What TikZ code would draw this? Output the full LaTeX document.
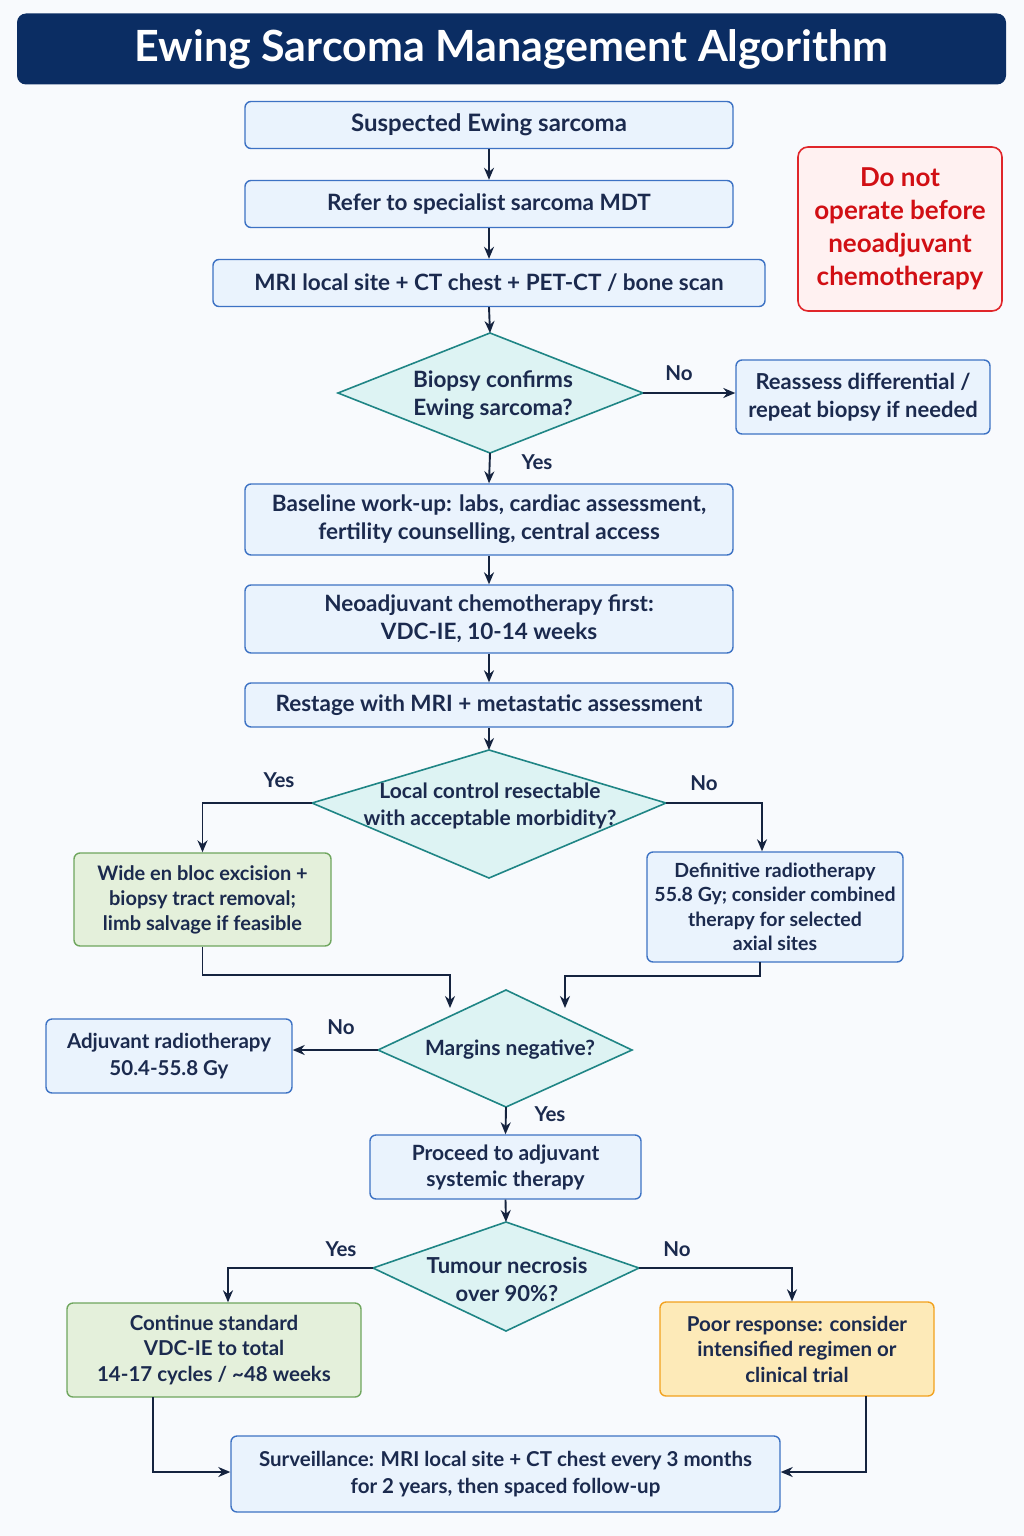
\documentclass[tikz,border=0pt]{standalone}
\usepackage{fontspec}
\setmainfont{Lato}
\usetikzlibrary{arrows.meta,calc}
\definecolor{bg}{HTML}{F8FAFD}
\definecolor{navy}{HTML}{0B2D63}
\definecolor{txt}{HTML}{1B2A4E}
\definecolor{bluefill}{HTML}{EAF3FD}
\definecolor{blueline}{HTML}{3D72C4}
\definecolor{greenfill}{HTML}{E4F0DB}
\definecolor{greenline}{HTML}{6FA65E}
\definecolor{orangefill}{HTML}{FDEAB8}
\definecolor{orangeline}{HTML}{F2A11E}
\definecolor{redfill}{HTML}{FFF1F1}
\definecolor{redline}{HTML}{E0262A}
\definecolor{redtxt}{HTML}{D10F14}
\definecolor{diafill}{HTML}{DDF3F3}
\definecolor{dialine}{HTML}{1F8585}
\definecolor{arrowc}{HTML}{15233F}
\begin{document}
\begin{tikzpicture}[x=1pt,y=-1pt,
  box/.style={draw=blueline,fill=bluefill,line width=1.4pt,rounded corners=6pt,text=txt,
    font=\fontsize{20.5}{27}\selectfont\bfseries,align=center,inner sep=0pt},
  bigtext/.style={font=\fontsize{22.5}{28}\selectfont\bfseries},
  greenbox/.style={box,draw=greenline,fill=greenfill},
  orangebox/.style={box,draw=orangeline,fill=orangefill},
  dia/.style={draw=dialine,fill=diafill,line width=1.6pt,line join=miter},
  dtext/.style={text=txt,font=\fontsize{21}{27}\selectfont\bfseries,align=center,inner sep=0pt},
  lbl/.style={text=txt,font=\fontsize{20.5}{24}\selectfont\bfseries,inner sep=0pt},
  arr/.style={draw=arrowc,line width=1.9pt,-{Stealth[length=12pt,width=10pt]}},
  ln/.style={draw=arrowc,line width=1.9pt}
]
\useasboundingbox (0,0) rectangle (1024,1536);
\fill[bg] (0,0) rectangle (1024,1536);

% title
\node[fill=navy,rounded corners=9pt,minimum width=989pt,minimum height=71pt,inner sep=0pt,
  text=white,font=\fontsize{43}{50}\selectfont\bfseries] (title) at (511.5,49) {Ewing Sarcoma Management Algorithm};

% top column
\node[box,font=\fontsize{24}{28}\selectfont\bfseries,minimum width=488pt,minimum height=47pt] (b1) at (489,125) {Suspected Ewing sarcoma};
\node[box,bigtext,minimum width=488pt,minimum height=47pt] (b2) at (489,204) {Refer to specialist sarcoma MDT};
\node[box,bigtext,minimum width=552pt,minimum height=47pt] (b3) at (489,283) {MRI local site + CT chest + PET-CT / bone scan};

% warning
\node[draw=redline,fill=redfill,line width=1.6pt,rounded corners=10pt,minimum width=204pt,minimum height=164pt,
  inner sep=0pt,align=center,text=redtxt,font=\fontsize{26}{33}\selectfont\bfseries] (warn) at (900,229)
  {Do not\\operate before\\neoadjuvant\\chemotherapy};

% diamond 1
\coordinate (d1n) at (490,333);
\coordinate (d1s) at (490,453);
\coordinate (d1w) at (338,393);
\coordinate (d1e) at (643,393);
\draw[dia] (d1n) -- (d1e) -- (d1s) -- (d1w) -- cycle;
\node[dtext,bigtext] (d1) at (493,395) {Biopsy confirms\\Ewing sarcoma?};

\node[box,minimum width=254pt,minimum height=74pt,font=\fontsize{22}{28}\selectfont\bfseries] (reas) at (863,397) {Reassess differential /\\repeat biopsy if needed};

\node[box,bigtext,minimum width=488pt,minimum height=71pt] (base) at (489,519.5) {Baseline work-up: labs, cardiac assessment,\\fertility counselling, central access};
\node[box,bigtext,minimum width=488pt,minimum height=68pt] (neo) at (489,619) {Neoadjuvant chemotherapy first:\\VDC-IE, 10-14 weeks};
\node[box,bigtext,minimum width=488pt,minimum height=44pt] (rest) at (489,705) {Restage with MRI + metastatic assessment};

% diamond 2
\coordinate (d2n) at (489,750);
\coordinate (d2s) at (489,878);
\coordinate (d2w) at (312,803);
\coordinate (d2e) at (666,803);
\draw[dia] (d2n) -- (d2e) -- (d2s) -- (d2w) -- cycle;
\node[dtext] (d2) at (490,806) {Local control resectable\\with acceptable morbidity?};

\node[greenbox,minimum width=257pt,minimum height=93pt,font=\fontsize{20}{25}\selectfont\bfseries] (wide) at (202.5,899.5) {Wide en bloc excision +\\biopsy tract removal;\\limb salvage if feasible};
\node[box,minimum width=256pt,minimum height=110pt,font=\fontsize{19.5}{24.5}\selectfont\bfseries] (defin) at (775,907) {Definitive radiotherapy\\55.8 Gy; consider combined\\therapy for selected\\axial sites};

% diamond 3
\coordinate (d3n) at (506,990);
\coordinate (d3s) at (506,1107);
\coordinate (d3w) at (378,1050);
\coordinate (d3e) at (632,1050);
\draw[dia] (d3n) -- (d3e) -- (d3s) -- (d3w) -- cycle;
\node[dtext] (d3) at (510,1050) {Margins negative?};

\node[box,minimum width=246pt,minimum height=74pt] (adj) at (169,1056) {Adjuvant radiotherapy\\50.4-55.8 Gy};
\node[box,font=\fontsize{21}{26}\selectfont\bfseries,minimum width=271pt,minimum height=64pt] (proc) at (505.5,1167) {Proceed to adjuvant\\systemic therapy};

% diamond 4
\coordinate (d4n) at (506,1222);
\coordinate (d4s) at (506,1331);
\coordinate (d4w) at (373,1268);
\coordinate (d4e) at (639,1268);
\draw[dia] (d4n) -- (d4e) -- (d4s) -- (d4w) -- cycle;
\node[dtext,font=\fontsize{22}{28}\selectfont\bfseries] (d4) at (507,1279) {Tumour necrosis\\over 90\%?};

\node[greenbox,minimum width=294pt,minimum height=94pt,font=\fontsize{20.5}{25.5}\selectfont\bfseries] (cont) at (214,1350) {Continue standard\\VDC-IE to total\\14-17 cycles / \textasciitilde48 weeks};
\node[orangebox,minimum width=274pt,minimum height=94pt,font=\fontsize{20.5}{25.5}\selectfont\bfseries] (poor) at (797,1349) {Poor response: consider\\intensified regimen or\\clinical trial};
\node[box,minimum width=549pt,minimum height=76pt] (surv) at (505.5,1474) {Surveillance: MRI local site + CT chest every 3 months\\for 2 years, then spaced follow-up};

% connectors
\draw[arr] (b1.south) -- (b2.north);
\draw[arr] (b2.south) -- (b3.north);
\draw[arr] (b3.south) -- (d1n);
\draw[arr] (d1e) -- (reas.west |- d1e);
\node[lbl] (no1) at (679,373) {No};
\draw[arr] (d1s) -- (base.north);
\node[lbl] (yes1) at (537,462) {Yes};
\draw[arr] (base.south) -- (neo.north);
\draw[arr] (neo.south) -- (rest.north);
\draw[arr] (rest.south) -- (d2n);
\draw[arr] (d2w) -| (wide.north);
\node[lbl] (yes2) at (279,780) {Yes};
\draw[arr] (d2e) -| ($(defin.north)+(-13,0)$);
\node[lbl] (no2) at (704,783) {No};

\coordinate (m1) at (450,1008);
\coordinate (m2) at (565,1008);
\draw[arr] (wide.south) |- (326,975) -| (m1);
\coordinate (dfb) at (760,962);
\draw[arr] (dfb) |- (663,976) -| (m2);

\draw[arr] (d3w) -- (adj.east |- d3w);
\node[lbl] (no3) at (341,1027) {No};
\draw[arr] (d3s) -- (proc.north);
\node[lbl] (yes3) at (550,1114) {Yes};
\draw[arr] (proc.south) -- (d4n);
\draw[arr] (d4w) -| ($(cont.north)+(14,0)$);
\node[lbl] (yes4) at (341,1249) {Yes};
\draw[arr] (d4e) -| ($(poor.north)+(-5,0)$);
\node[lbl] (no4) at (677,1249) {No};

\coordinate (c1) at (153,1397);
\coordinate (c2) at (866,1396);
\draw[arr] (c1) |- ($(surv.west)+(0,-2)$);
\draw[arr] (c2) |- ($(surv.east)+(0,-2)$);
\end{tikzpicture}
\end{document}
